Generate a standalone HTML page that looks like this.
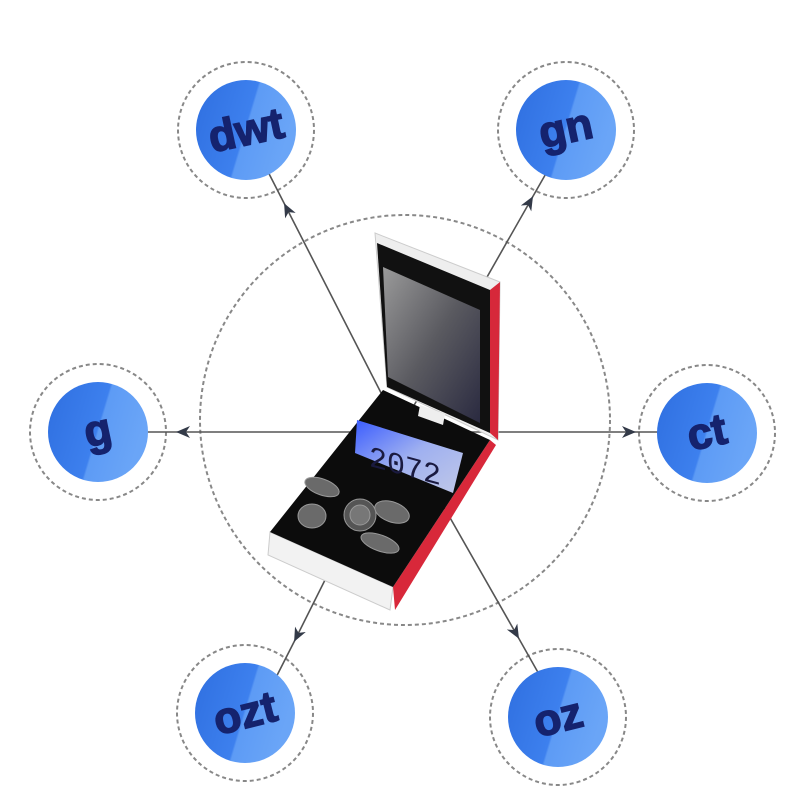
<!DOCTYPE html>
<html><head><style>
html,body{margin:0;padding:0;background:#fff;width:800px;height:800px;overflow:hidden}
text.l{font-family:"Liberation Sans",sans-serif;font-weight:bold;font-size:44px;fill:#15236e;stroke:#15236e;stroke-width:1.5}
</style></head><body>
<svg width="800" height="800" viewBox="0 0 800 800" xmlns="http://www.w3.org/2000/svg">
<defs>
<linearGradient id="b" x1="0" y1="0" x2="1" y2="0.3">
<stop offset="0" stop-color="#2f6fe0"/><stop offset="0.58" stop-color="#3d80ee"/><stop offset="0.6" stop-color="#5d9bf5"/><stop offset="1" stop-color="#6aa5f7"/>
</linearGradient>
<linearGradient id="m" x1="0" y1="0" x2="1" y2="1">
<stop offset="0" stop-color="#9a9a9a"/><stop offset="0.5" stop-color="#5a5a60"/><stop offset="1" stop-color="#2a2a40"/>
</linearGradient>
<linearGradient id="lcd" x1="0" y1="0" x2="1" y2="1">
<stop offset="0" stop-color="#3a5cff"/><stop offset="0.5" stop-color="#9fb0f0"/><stop offset="1" stop-color="#c0c8e8"/>
</linearGradient>
<marker id="a" markerWidth="14" markerHeight="12" refX="12" refY="6" orient="auto" markerUnits="userSpaceOnUse">
<path d="M0,0 L14,6 L0,12 L4,6 z" fill="#333a48"/></marker>
</defs>
<g fill="none" stroke="#888" stroke-width="2" stroke-dasharray="4,3">
<circle cx="405" cy="420" r="205"/>
<circle cx="246" cy="130" r="68"/><circle cx="566" cy="130" r="68"/>
<circle cx="98" cy="432" r="68"/><circle cx="707" cy="433" r="68"/>
<circle cx="245" cy="713" r="68"/><circle cx="558" cy="717" r="68"/>
</g>
<g stroke="#555" stroke-width="1.6" fill="none" marker-mid="url(#a)">
<polyline points="400,430 285,205 262,160"/>
<polyline points="400,430 532,198 572,128"/>
<polyline points="400,432 178,432 98,432"/>
<polyline points="400,432 634,432 707,432"/>
<polyline points="400,430 295,640 263,703"/>
<polyline points="400,430 518,637 553,699"/>
</g>
<g>
<circle cx="246" cy="130" r="50" fill="url(#b)"/>
<circle cx="566" cy="130" r="50" fill="url(#b)"/>
<circle cx="98" cy="432" r="50" fill="url(#b)"/>
<circle cx="707" cy="433" r="50" fill="url(#b)"/>
<circle cx="245" cy="713" r="50" fill="url(#b)"/>
<circle cx="558" cy="717" r="50" fill="url(#b)"/>
</g>
<text class="l" x="246" y="145" text-anchor="middle" transform="rotate(-12 246 130)">dwt</text>
<text class="l" x="566" y="143" text-anchor="middle" transform="rotate(-12 566 130)">gn</text>
<text class="l" x="98" y="445" text-anchor="middle" transform="rotate(-12 98 432)">g</text>
<text class="l" x="707" y="447" text-anchor="middle" transform="rotate(-12 707 433)">ct</text>
<text class="l" x="245" y="728" text-anchor="middle" transform="rotate(-14 245 713)">ozt</text>
<text class="l" x="558" y="732" text-anchor="middle" transform="rotate(-14 558 717)">oz</text>
<!-- device -->
<polygon points="375,233 500,282 498,440 387,387" fill="#eee" stroke="#ccc"/>
<polygon points="490,290 500,282 498,440 490,433" fill="#d6283a"/>
<polygon points="377,243 490,290 490,433 387,387" fill="#111"/>
<polygon points="383,267 480,310 480,423 388,377" fill="url(#m)"/>
<polygon points="270,532 268,555 390,610 393,587" fill="#f2f2f2" stroke="#ccc"/>
<polygon points="490,440 496,445 395,610 393,587" fill="#d8283a"/>
<polygon points="383,390 490,440 393,587 270,532" fill="#0c0c0c"/>
<polygon points="420,405 445,414 443,425 418,416" fill="#eee"/>
<polygon points="357,420 463,453 453,493 355,453" fill="url(#lcd)"/>
<text x="405" y="475" font-family="Liberation Mono,monospace" font-size="30" fill="#1a1a40" text-anchor="middle" transform="skewY(15) translate(0,-108)">2072</text>
<g fill="#6a6a6a" stroke="#999" stroke-width="1">
<ellipse cx="322" cy="487" rx="18" ry="8" transform="rotate(20 322 487)"/>
<ellipse cx="392" cy="512" rx="18" ry="10" transform="rotate(20 392 512)"/>
<ellipse cx="380" cy="543" rx="20" ry="8" transform="rotate(20 380 543)"/>
<ellipse cx="312" cy="516" rx="14" ry="12"/>
<circle cx="360" cy="515" r="16" fill="#555"/>
<circle cx="360" cy="515" r="10" fill="#777"/>
</g>
</svg>
</body></html>
